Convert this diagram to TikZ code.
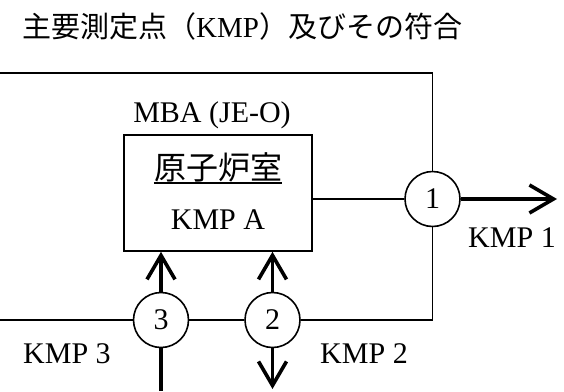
\documentclass[tikz,border=0pt]{standalone}
\usepackage{fontspec}
\setmainfont{Liberation Serif}
\newfontfamily\cjk{Noto Sans CJK JP}
\usetikzlibrary{arrows.meta}
\begin{document}
\begin{tikzpicture}[x=1pt,y=-1pt,
  thinline/.style={line width=1.6pt},
  thickline/.style={line width=3.6pt},
  kmp/.style={circle,draw,line width=1.6pt,minimum size=55pt,inner sep=0pt,font=\fontsize{30}{36}\selectfont},
  lbl/.style={anchor=base,inner sep=0pt,font=\fontsize{30}{36}\selectfont},
  barb/.style={-{Straight Barb[length=24pt,width=28pt]}},
]
\useasboundingbox (0,0) rectangle (564,391);
\node[lbl,anchor=base west,font=\fontsize{29}{34}\selectfont] (title) at (22,37.5) {{\cjk 主要測定点（}KMP{\cjk ）及びその符合}};
\node[draw,thinline,minimum width=188pt,minimum height=116pt,inner sep=0pt] (room) at (218,193) {};
\node[lbl] (mba) at (212,122) {MBA (JE-O)};
\node[lbl,font=\fontsize{32}{36}\selectfont\cjk] (name) at (218,179) {原子炉室};
\draw[line width=1.5pt] ([yshift=-4pt]name.base west) -- ([yshift=-4pt]name.base east);
\node[lbl] (kmpa) at (218,229) {KMP A};
\node[kmp] (c1) at (432.5,199) {1};
\node[kmp] (c2) at (272.5,320) {2};
\node[kmp] (c3) at (161,320) {3};
\coordinate (tl) at (0,73);
\coordinate (tr) at (432.5,73);
\coordinate (br) at (432.5,320);
\coordinate (bl) at (0,320);
\coordinate (e1) at (557,199);
\coordinate (b3) at (161,391);
\coordinate (b2) at (272.5,389);
\draw[thinline] (tl) -- (tr) -- (c1.north);
\draw[thinline] (c1.south) -- (br) -- (c2.east);
\draw[thinline] (c2.west) -- (c3.east);
\draw[thinline] (c3.west) -- (bl);
\draw[thinline] (room.east |- c1.west) -- (c1.west);
\draw[thickline,barb] (c1.east) -- (e1);
\draw[thickline,barb] (c3.north) -- (c3.north |- room.south);
\draw[thickline] (b3) -- (c3.south);
\draw[thickline,barb] (c2.north) -- (c2.north |- room.south);
\draw[thickline,barb] (c2.south) -- (b2);
\node[lbl] (k1) at (512,247) {KMP 1};
\node[lbl] (k2) at (364,363) {KMP 2};
\node[lbl] (k3) at (67,363) {KMP 3};
\end{tikzpicture}
\end{document}
